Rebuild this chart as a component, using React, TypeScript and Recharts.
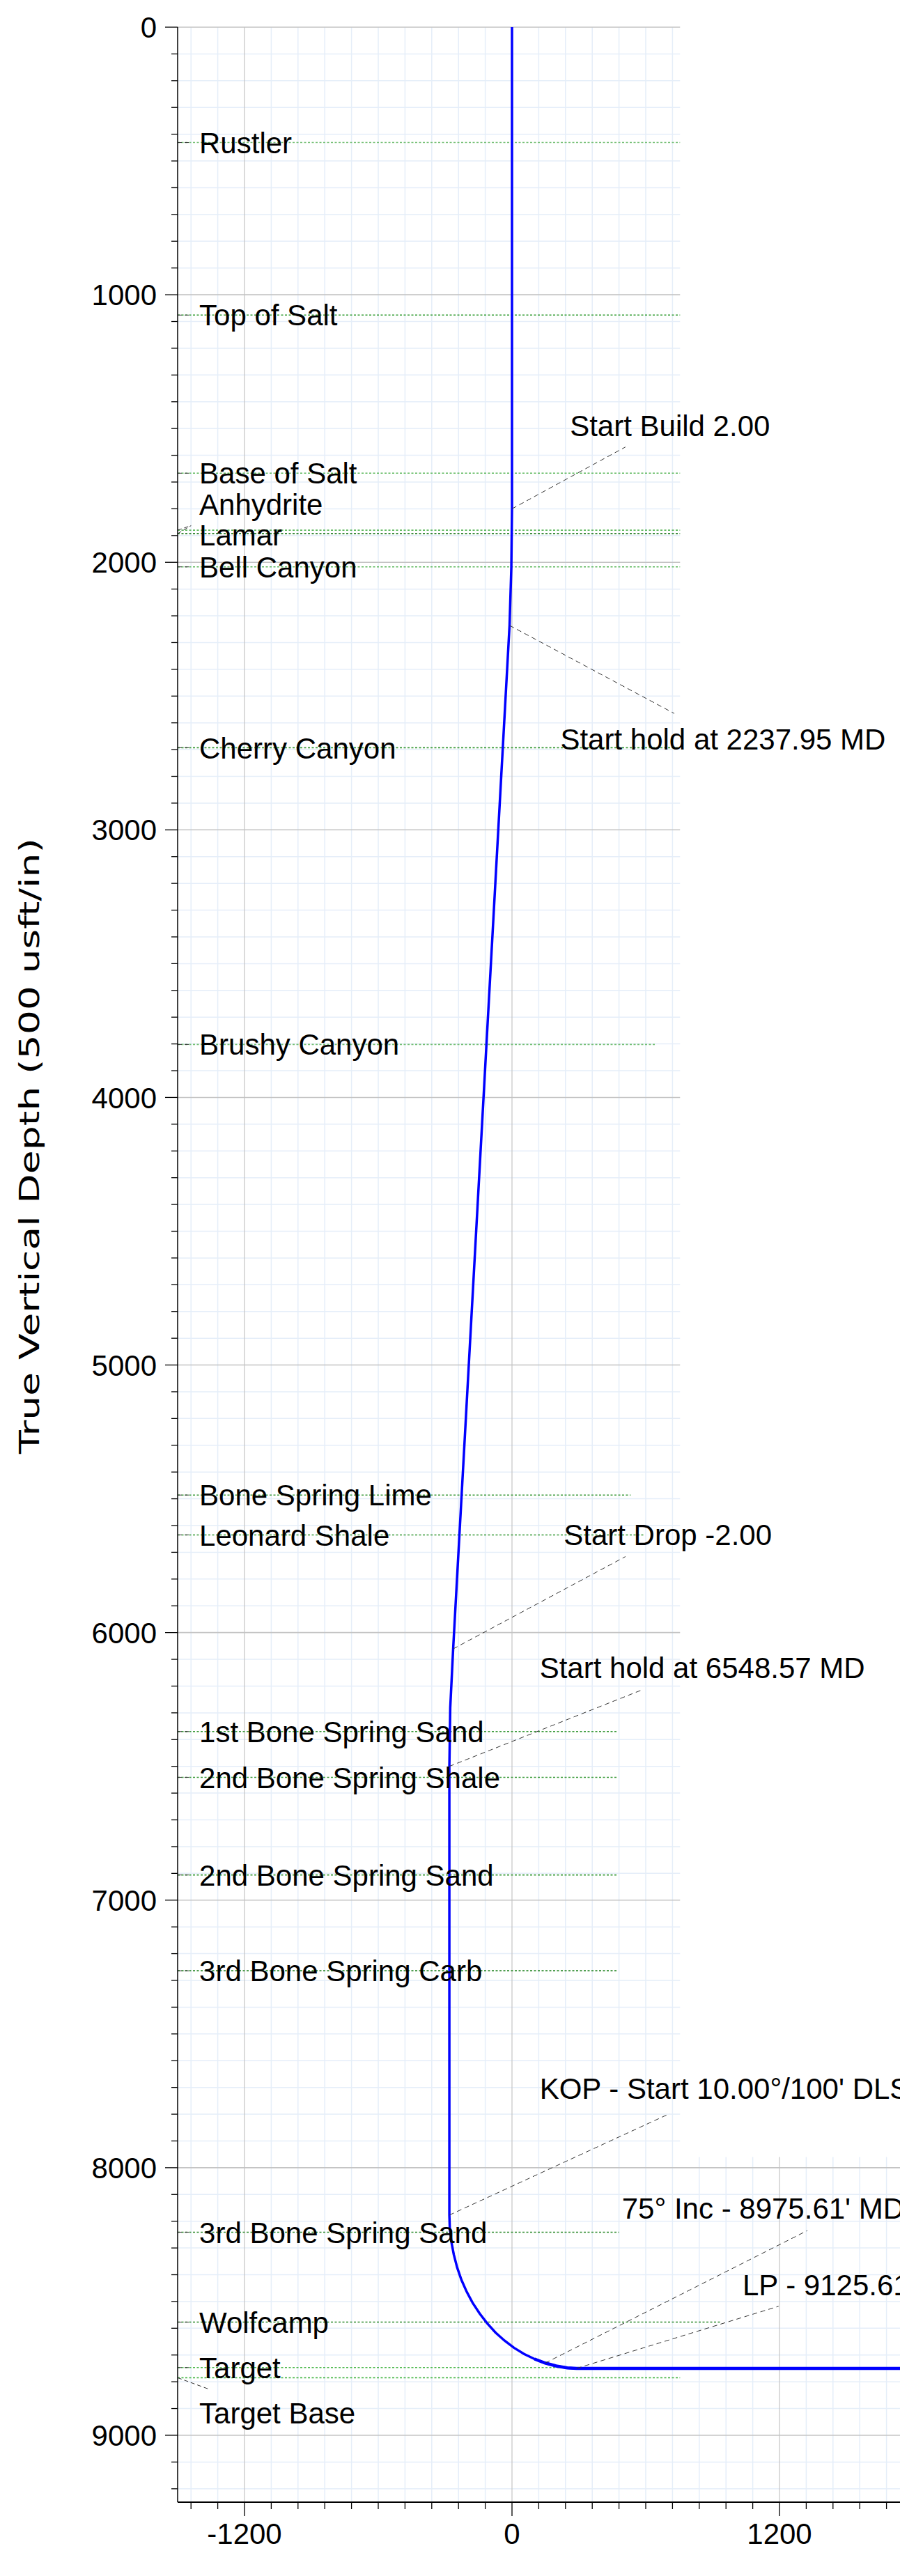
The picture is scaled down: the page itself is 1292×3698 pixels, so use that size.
import React from "react";
import { LineChart, Line, XAxis, YAxis, ReferenceLine, ReferenceDot } from "recharts";

// well path: vertical section (usft) vs true vertical depth (usft)
const wellVs = [
  0, 0, -3, -11, -264, -277, -281, -281, -279, -272, -261, -246, -227, -203, -176, -145, -111,
  -74, -34, 9, 54, 101, 149, 198, 248, 290, 2400,
];
const wellTvd = [
  0, 1800, 2020, 2236, 6061, 6281, 6500, 8177, 8227, 8277, 8325, 8373, 8419, 8464, 8506, 8545,
  8582, 8616, 8646, 8673, 8696, 8715, 8730, 8741, 8748, 8750, 8750,
];

const formationNames = [
  "Rustler",
  "Top of Salt",
  "Base of Salt",
  "Anhydrite",
  "Lamar",
  "Bell Canyon",
  "Cherry Canyon",
  "Brushy Canyon",
  "Bone Spring Lime",
  "Leonard Shale",
  "1st Bone Spring Sand",
  "2nd Bone Spring Shale",
  "2nd Bone Spring Sand",
  "3rd Bone Spring Carb",
  "3rd Bone Spring Sand",
  "Wolfcamp",
  "Target",
  "Target Base",
];
const formationTvd = [
  431, 1076, 1667, 1880, 1893, 2017, 2693, 3802, 5486, 5635, 6370, 6541, 6906, 7264, 8241, 8577,
  8747, 8785,
];

const annotationText = [
  "Start Build 2.00",
  "Start hold at 2237.95 MD",
  "Start Drop -2.00",
  "Start hold at 6548.57 MD",
  "KOP - Start 10.00°/100' DLS",
  "75° Inc - 8975.61' MD",
  "LP - 9125.61' MD",
];
const annotationVs = [0, -11, -264, -281, -281, 149, 290];
const annotationTvd = [1800, 2236, 6061, 6500, 8177, 8730, 8750];

const depthTicks = Array.from({ length: 93 }, (_, i) => i * 100);
const depthLabels = [0, 1000, 2000, 3000, 4000, 5000, 6000, 7000, 8000, 9000];
const sectionTicks = Array.from({ length: 33 }, (_, i) => -1440 + i * 120);
const sectionLabels = [-1200, 0, 1200, 2400];

// layout
const FONT = "'Liberation Sans', Arial, Helvetica, sans-serif";
const FS = 42;
const CHART_W = 1503;
const CHART_H = 3698;
const PLOT_LEFT = 255;
const PLOT_TOP = 39;
const X_AXIS_H = 106;
const PLOT_BOTTOM = CHART_H - X_AXIS_H;
const VS_MIN = -1500;
const VS_MAX = 2400;
const TVD_MAX = 9250;
const UPPER_RIGHT = 754; // upper grid box stops here
const LOWER_TOP = 7960; // lower grid box starts here
const THICK_FROM_TVD = 8700; // lateral drawn a bit heavier

// dotted formation line ends, label positions, colours
const formationLineEnd = [
  754, 754, 754, 754, 754, 754, 754, 648, 532, 592, 470, 470, 470, 470, 480, 940, 250, 754,
];
const formationLabelTvd = formationTvd.map((t, i) =>
  formationNames[i] === "Anhydrite" ? 1784 : formationNames[i] === "Target Base" ? 8916 : formationNames[i] === "Lamar" ? 1898 : t
);
const formationColor = [
  "#74bf74", "#2f9a2f", "#5cb85c", "#5cb85c", "#1f7a1f", "#5cb85c", "#3a9a3a", "#74bf74", "#3a9a3a",
  "#3a9a3a", "#3a9a3a", "#3a9a3a", "#3a9a3a", "#2e8b2e", "#2e8b2e", "#2e8b2e", "#4cb84c", "#4cb84c",
];
const annotationLeaderEnd = [
  { x: 509, y: 1569 },
  { x: 728, y: 2565 },
  { x: 509, y: 5716 },
  { x: 584, y: 6214 },
  { x: 707, y: 7798 },
  { x: 1325, y: 8235 },
  { x: 1196, y: 8518 },
];
const annotationTextPos = [
  { x: 260, y: 1489 },
  { x: 217, y: 2660 },
  { x: 232, y: 5633 },
  { x: 124, y: 6131 },
  { x: 124, y: 7704 },
  { x: 493, y: 8151 },
  { x: 1034, y: 8438 },
];

const rows = wellVs.map((vs, i) => ({
  vs,
  tvd: wellTvd[i],
  thick: wellTvd[i] >= THICK_FROM_TVD ? wellTvd[i] : null,
}));

function DepthTick(props: any) {
  const { y, payload } = props;
  const major = payload.value % 1000 === 0;
  return (
    <g>
      <line x1={PLOT_LEFT - (major ? 18 : 9)} x2={PLOT_LEFT} y1={y} y2={y} stroke="#000" strokeWidth={1.3} />
      {major && depthLabels.includes(payload.value) && (
        <text x={PLOT_LEFT - 30} y={y} dy="0.36em" textAnchor="end" fontSize={FS} fontFamily={FONT} fill="#000">
          {payload.value}
        </text>
      )}
    </g>
  );
}

function SectionTick(props: any) {
  const { x, payload } = props;
  const major = sectionLabels.includes(payload.value);
  return (
    <g>
      <line x1={x} x2={x} y1={PLOT_BOTTOM} y2={PLOT_BOTTOM + (major ? 20 : 10)} stroke="#000" strokeWidth={1.3} />
      {major && (
        <text x={x} y={PLOT_BOTTOM + 45} dy="0.36em" textAnchor="middle" fontSize={FS} fontFamily={FONT} fill="#000">
          {payload.value}
        </text>
      )}
    </g>
  );
}

function AxisTitle() {
  return (
    <text
      x={42}
      y={1645}
      transform="rotate(-90 42 1645)"
      dy="0.36em"
      textAnchor="middle"
      fontSize={39}
      fontFamily="'DejaVu Sans', Verdana, sans-serif"
      fill="#000"
      textLength={884}
      lengthAdjust="spacingAndGlyphs"
    >
      True Vertical Depth (500 usft/in)
    </text>
  );
}

function textLabel(value: string, size = FS) {
  return (p: any) => {
    const vb = p.viewBox || {};
    return (
      <text x={vb.x} y={vb.y} dy="0.36em" fontSize={size} fontFamily={FONT} fill="#000">
        {value}
      </text>
    );
  };
}

function gridLines() {
  const out: React.ReactNode[] = [];
  const minorColor = "#e5eef9";
  const majorColor = "#c4c4c4";
  depthTicks.forEach((h) => {
    if (depthLabels.includes(h)) return;
    out.push(
      <ReferenceLine key={`hm${h}`} segment={[{ x: VS_MIN, y: h }, { x: h >= LOWER_TOP ? VS_MAX : UPPER_RIGHT, y: h }]}
        stroke={minorColor} strokeWidth={1.5} zIndex={-100} />
    );
  });
  sectionTicks.forEach((v) => {
    if (sectionLabels.includes(v)) return;
    out.push(
      <ReferenceLine key={`vm${v}`} segment={[{ x: v, y: v <= UPPER_RIGHT ? 0 : LOWER_TOP }, { x: v, y: TVD_MAX }]}
        stroke={minorColor} strokeWidth={1.5} zIndex={-100} />
    );
  });
  depthLabels.forEach((h) => {
    out.push(
      <ReferenceLine key={`hM${h}`} segment={[{ x: VS_MIN, y: h }, { x: h >= LOWER_TOP ? VS_MAX : UPPER_RIGHT, y: h }]}
        stroke={majorColor} strokeWidth={1.6} zIndex={-90} />
    );
  });
  sectionLabels.forEach((v) => {
    out.push(
      <ReferenceLine key={`vM${v}`} segment={[{ x: v, y: v <= UPPER_RIGHT ? 0 : LOWER_TOP }, { x: v, y: TVD_MAX }]}
        stroke={majorColor} strokeWidth={1.2} zIndex={-90} />
    );
  });
  return out;
}

export default function App() {
  return (
    <div style={{ position: "absolute", left: 0, top: 0, width: 1292, height: CHART_H, overflow: "hidden", background: "#fff" }}>
      <LineChart width={CHART_W} height={CHART_H} data={rows} margin={{ top: PLOT_TOP, right: 0, bottom: 0, left: 0 }}>
        <XAxis
          dataKey="vs"
          type="number"
          domain={[VS_MIN, VS_MAX]}
          allowDataOverflow
          ticks={sectionTicks}
          interval={0}
          height={X_AXIS_H}
          tickSize={0}
          tickLine={false}
          tick={<SectionTick />}
          axisLine={{ stroke: "#000", strokeWidth: 2 }}
        />
        <YAxis
          type="number"
          domain={[0, TVD_MAX]}
          reversed
          allowDataOverflow
          ticks={depthTicks}
          interval={0}
          width={PLOT_LEFT}
          tickSize={0}
          tickLine={false}
          tick={<DepthTick />}
          axisLine={{ stroke: "#000", strokeWidth: 1.5 }}
          label={<AxisTitle />}
        />
        {gridLines()}
        {formationNames.map((name, i) => (
          <ReferenceLine
            key={`f${name}`}
            segment={[{ x: VS_MIN, y: formationTvd[i] }, { x: formationLineEnd[i], y: formationTvd[i] }]}
            stroke={formationColor[i]}
            strokeWidth={1.6}
            strokeDasharray="3 2.5"
            zIndex={-50}
          />
        ))}
        {formationNames.map((name, i) =>
          formationLabelTvd[i] === formationTvd[i] ? (
            <ReferenceLine
              key={`fl${name}`}
              segment={[{ x: VS_MIN, y: formationTvd[i] }, { x: -1440, y: formationTvd[i] }]}
              stroke="#333"
              strokeWidth={1}
              strokeDasharray="6 4"
              zIndex={-40}
            />
          ) : (
            <ReferenceLine
              key={`fl${name}`}
              segment={[
                { x: VS_MIN, y: formationTvd[i] },
                { x: name === "Target Base" ? -1355 : -1440, y: name === "Target Base" ? 8829 : 1863 },
              ]}
              stroke="#333"
              strokeWidth={1}
              strokeDasharray="6 4"
              zIndex={-40}
            />
          )
        )}
        <Line
          dataKey="tvd"
          type="linear"
          stroke="#0000ff"
          strokeWidth={3.5}
          dot={false}
          activeDot={false}
          isAnimationActive={false}
          zIndex={500}
        />
        <Line
          dataKey="thick"
          type="linear"
          stroke="#0000ff"
          strokeWidth={4.5}
          dot={false}
          activeDot={false}
          connectNulls={false}
          isAnimationActive={false}
          zIndex={510}
        />
        {annotationText.map((t, i) => (
          <ReferenceLine
            key={`al${i}`}
            segment={[{ x: annotationVs[i], y: annotationTvd[i] }, annotationLeaderEnd[i]]}
            stroke="#333"
            strokeWidth={1}
            strokeDasharray="7 5"
            zIndex={600}
          />
        ))}
        {formationNames.map((name, i) => (
          <ReferenceDot
            key={`fn${name}`}
            x={-1403}
            y={formationLabelTvd[i]}
            r={0}
            fill="none"
            stroke="none"
            label={textLabel(name)}
            zIndex={700}
          />
        ))}
        {annotationText.map((t, i) => (
          <ReferenceDot
            key={`at${i}`}
            x={annotationTextPos[i].x}
            y={annotationTextPos[i].y}
            r={0}
            fill="none"
            stroke="none"
            label={textLabel(t)}
            zIndex={700}
          />
        ))}
      </LineChart>
    </div>
  );
}
